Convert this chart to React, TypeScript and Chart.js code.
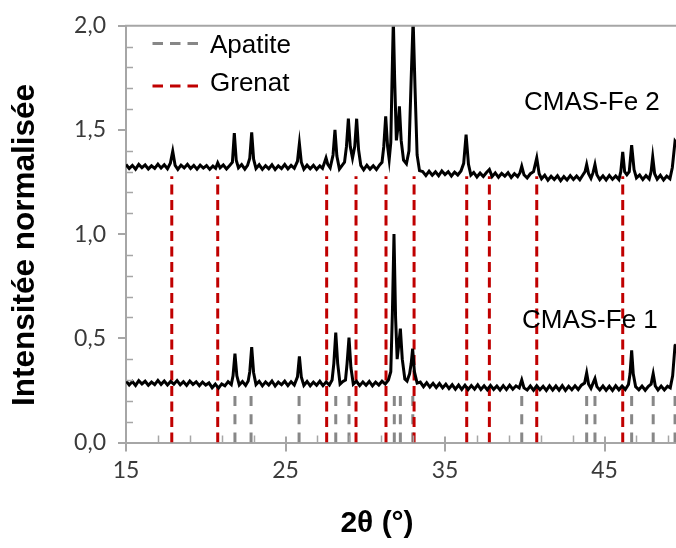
import React, { useEffect, useRef } from 'react';
import { Chart, registerables } from 'chart.js';

Chart.register(...registerables);

// ---- axis / labels ----
const xTicks = [15, 25, 35, 45];
const xMinorTicks = [17, 19, 21, 23, 27, 29, 31, 33, 37, 39, 41, 43, 47, 49];
const yTicks = [0, 0.5, 1, 1.5, 2];
const xRange = [15, 49.48];
const yRange = [0, 2];
const xTitle = '2θ (°)';
const yTitle = 'Intensitée normalisée';
const seriesLabels = ['CMAS-Fe 1', 'CMAS-Fe 2'];
const refLabels = ['Apatite', 'Grenat'];

// ---- reference peak positions (2θ) ----
const apatitePeaks = [21.83, 22.84, 25.85, 28.15, 28.98, 31.82, 32.2, 32.98, 39.81, 43.88, 44.4, 46.7, 48.05, 49.42];
const apatiteTop = 0.223;
const grenatPeaks = [17.87, 20.75, 27.58, 29.42, 31.3, 33.06, 36.36, 37.78, 40.75, 46.14];
const grenatTop = 1.278;

// ---- CMAS-Fe 2 (upper pattern) ----
const cmasFe2: [number, number][] = [
  [15.0, 1.334], [15.2, 1.315], [15.4, 1.33], [15.6, 1.312], [15.8, 1.335], [16.0, 1.319], [16.2, 1.332], [16.4, 1.313],
  [16.6, 1.328], [16.8, 1.316], [17.0, 1.336], [17.2, 1.317], [17.4, 1.333], [17.6, 1.314], [17.78, 1.34], [17.93, 1.398],
  [18.08, 1.33], [18.25, 1.311], [18.45, 1.331], [18.65, 1.318], [18.85, 1.335], [19.05, 1.315], [19.25, 1.33], [19.45, 1.312],
  [19.65, 1.331], [19.85, 1.317], [20.05, 1.329], [20.25, 1.311], [20.45, 1.327], [20.62, 1.316], [20.75, 1.342], [20.9, 1.318],
  [21.1, 1.332], [21.3, 1.313], [21.5, 1.33], [21.67, 1.345], [21.79, 1.485], [21.91, 1.355], [22.05, 1.318], [22.25, 1.334],
  [22.45, 1.312], [22.62, 1.33], [22.76, 1.365], [22.88, 1.489], [23.0, 1.36], [23.15, 1.315], [23.35, 1.333], [23.55, 1.311],
  [23.75, 1.329], [23.95, 1.314], [24.15, 1.333], [24.35, 1.31], [24.55, 1.328], [24.75, 1.315], [24.95, 1.334], [25.15, 1.313],
  [25.35, 1.33], [25.55, 1.316], [25.75, 1.35], [25.87, 1.435], [25.99, 1.345], [26.15, 1.312], [26.35, 1.331], [26.55, 1.314],
  [26.75, 1.33], [26.95, 1.311], [27.15, 1.328], [27.32, 1.316], [27.45, 1.345], [27.54, 1.366], [27.65, 1.335], [27.8, 1.318],
  [27.98, 1.38], [28.1, 1.5], [28.22, 1.375], [28.38, 1.312], [28.55, 1.33], [28.7, 1.345], [28.82, 1.42], [28.94, 1.554],
  [29.06, 1.42], [29.2, 1.365], [29.34, 1.42], [29.46, 1.554], [29.58, 1.405], [29.72, 1.33], [29.9, 1.309], [30.1, 1.331],
  [30.3, 1.312], [30.5, 1.328], [30.7, 1.31], [30.9, 1.332], [31.05, 1.345], [31.16, 1.42], [31.28, 1.565], [31.4, 1.42],
  [31.5, 1.358], [31.6, 1.44], [31.68, 1.75], [31.76, 2.03], [31.84, 1.75], [31.95, 1.45], [32.06, 1.52], [32.14, 1.613],
  [32.25, 1.45], [32.4, 1.355], [32.58, 1.338], [32.74, 1.4], [32.88, 1.75], [33.0, 2.03], [33.12, 1.7], [33.25, 1.38],
  [33.4, 1.305], [33.6, 1.3], [33.8, 1.281], [34.0, 1.302], [34.2, 1.283], [34.4, 1.299], [34.6, 1.28], [34.8, 1.303],
  [35.0, 1.286], [35.2, 1.3], [35.4, 1.279], [35.6, 1.298], [35.8, 1.284], [36.0, 1.303], [36.17, 1.34], [36.32, 1.478],
  [36.47, 1.335], [36.62, 1.283], [36.8, 1.296], [37.0, 1.274], [37.2, 1.293], [37.4, 1.277], [37.6, 1.296], [37.78, 1.31],
  [37.95, 1.276], [38.15, 1.294], [38.35, 1.273], [38.55, 1.292], [38.75, 1.278], [38.95, 1.295], [39.15, 1.272], [39.35, 1.29],
  [39.55, 1.276], [39.7, 1.295], [39.81, 1.326], [39.95, 1.285], [40.15, 1.27], [40.35, 1.29], [40.55, 1.3], [40.75, 1.366],
  [40.9, 1.29], [41.05, 1.266], [41.25, 1.283], [41.45, 1.259], [41.65, 1.278], [41.85, 1.262], [42.05, 1.28], [42.25, 1.257],
  [42.45, 1.276], [42.65, 1.26], [42.85, 1.281], [43.05, 1.262], [43.25, 1.279], [43.45, 1.261], [43.65, 1.285], [43.78, 1.3],
  [43.88, 1.334], [44.0, 1.29], [44.15, 1.268], [44.28, 1.295], [44.4, 1.334], [44.52, 1.285], [44.7, 1.262], [44.9, 1.28],
  [45.1, 1.26], [45.3, 1.282], [45.5, 1.263], [45.7, 1.279], [45.9, 1.262], [46.02, 1.3], [46.14, 1.395], [46.26, 1.3],
  [46.4, 1.285], [46.55, 1.3], [46.7, 1.427], [46.85, 1.31], [47.0, 1.27], [47.2, 1.284], [47.4, 1.262], [47.6, 1.281],
  [47.8, 1.265], [47.92, 1.3], [48.02, 1.37], [48.14, 1.29], [48.3, 1.264], [48.5, 1.283], [48.7, 1.26], [48.9, 1.279],
  [49.1, 1.266], [49.25, 1.32], [49.42, 1.446], [49.48, 1.44],
];

// ---- CMAS-Fe 1 (lower pattern) ----
const cmasFe1: [number, number][] = [
  [15.0, 0.296], [15.2, 0.276], [15.4, 0.293], [15.6, 0.274], [15.8, 0.297], [16.0, 0.281], [16.2, 0.294], [16.4, 0.275],
  [16.6, 0.29], [16.8, 0.278], [17.0, 0.298], [17.2, 0.279], [17.4, 0.295], [17.6, 0.276], [17.8, 0.293], [18.0, 0.28],
  [18.2, 0.297], [18.4, 0.277], [18.6, 0.292], [18.8, 0.274], [19.0, 0.295], [19.2, 0.279], [19.4, 0.291], [19.6, 0.273],
  [19.8, 0.29], [20.0, 0.276], [20.2, 0.286], [20.4, 0.263], [20.6, 0.28], [20.8, 0.261], [21.0, 0.281], [21.2, 0.272],
  [21.4, 0.292], [21.6, 0.278], [21.71, 0.32], [21.83, 0.426], [21.95, 0.32], [22.1, 0.276], [22.3, 0.293], [22.5, 0.274],
  [22.66, 0.295], [22.76, 0.34], [22.88, 0.458], [23.0, 0.335], [23.15, 0.278], [23.35, 0.294], [23.55, 0.272], [23.75, 0.291],
  [23.95, 0.276], [24.15, 0.295], [24.35, 0.271], [24.55, 0.29], [24.75, 0.277], [24.95, 0.294], [25.15, 0.273], [25.35, 0.292],
  [25.55, 0.276], [25.75, 0.315], [25.87, 0.413], [25.99, 0.315], [26.15, 0.274], [26.35, 0.293], [26.55, 0.272], [26.75, 0.29],
  [26.95, 0.275], [27.15, 0.294], [27.35, 0.273], [27.55, 0.291], [27.75, 0.276], [27.92, 0.3], [28.03, 0.38], [28.15, 0.527],
  [28.27, 0.38], [28.42, 0.28], [28.6, 0.293], [28.76, 0.3], [28.86, 0.38], [28.98, 0.503], [29.1, 0.36], [29.25, 0.28],
  [29.45, 0.294], [29.65, 0.273], [29.85, 0.291], [30.05, 0.275], [30.25, 0.293], [30.45, 0.272], [30.65, 0.29], [30.85, 0.276],
  [31.05, 0.294], [31.25, 0.28], [31.45, 0.3], [31.6, 0.34], [31.7, 0.62], [31.8, 1.0], [31.9, 0.6], [32.0, 0.4],
  [32.1, 0.47], [32.2, 0.547], [32.32, 0.4], [32.48, 0.305], [32.62, 0.295], [32.78, 0.33], [32.88, 0.38], [32.97, 0.45],
  [33.08, 0.34], [33.25, 0.285], [33.45, 0.29], [33.65, 0.268], [33.85, 0.287], [34.05, 0.266], [34.25, 0.284], [34.45, 0.264],
  [34.65, 0.283], [34.85, 0.262], [35.05, 0.28], [35.25, 0.259], [35.45, 0.277], [35.65, 0.256], [35.85, 0.276], [36.05, 0.255],
  [36.25, 0.275], [36.45, 0.254], [36.65, 0.273], [36.85, 0.256], [37.05, 0.277], [37.25, 0.254], [37.45, 0.272], [37.65, 0.253],
  [37.85, 0.274], [38.05, 0.255], [38.25, 0.271], [38.45, 0.252], [38.65, 0.273], [38.85, 0.254], [39.05, 0.275], [39.25, 0.256],
  [39.45, 0.272], [39.65, 0.262], [39.81, 0.3], [39.95, 0.262], [40.15, 0.252], [40.35, 0.271], [40.55, 0.251], [40.75, 0.272],
  [40.95, 0.253], [41.15, 0.27], [41.35, 0.25], [41.55, 0.272], [41.75, 0.252], [41.95, 0.271], [42.15, 0.251], [42.35, 0.273],
  [42.55, 0.25], [42.75, 0.27], [42.95, 0.253], [43.15, 0.272], [43.35, 0.254], [43.55, 0.275], [43.75, 0.285], [43.88, 0.334],
  [44.0, 0.28], [44.15, 0.26], [44.28, 0.285], [44.4, 0.307], [44.52, 0.268], [44.7, 0.252], [44.9, 0.271], [45.1, 0.251],
  [45.3, 0.27], [45.5, 0.25], [45.7, 0.272], [45.9, 0.253], [46.1, 0.271], [46.3, 0.254], [46.5, 0.278], [46.6, 0.33],
  [46.7, 0.442], [46.8, 0.33], [46.95, 0.268], [47.15, 0.253], [47.35, 0.271], [47.55, 0.251], [47.75, 0.27], [47.92, 0.28],
  [48.05, 0.33], [48.18, 0.272], [48.35, 0.252], [48.55, 0.271], [48.75, 0.252], [48.95, 0.27], [49.12, 0.262], [49.27, 0.32],
  [49.42, 0.466], [49.48, 0.47],
];

// ---- styles ----
const W = 676;
const H = 548;
const AXIS = '#a6a6a6';
const TICK_TEXT = '#3a3a3a';
const GREY = '#878787';
const RED = '#c00000';
const SANS = '"Liberation Sans", Arial, sans-serif';
const TICK_FONT = 'Lato';

export default function App() {
  const ref = useRef<HTMLCanvasElement | null>(null);

  useEffect(() => {
    const canvas = ref.current;
    if (!canvas) return;

    const vlines = (xs: number[], top: number) =>
      xs.flatMap((x) => [{ x, y: 0 }, { x, y: top }, { x, y: null as any }]);

    const overlay = {
      id: 'overlay',
      afterDraw(chart: any) {
        const { ctx, chartArea: ca, scales } = chart;
        const xs = scales.x;
        const ys = scales.y;
        ctx.save();
        // top frame line
        ctx.strokeStyle = AXIS;
        ctx.lineWidth = 2;
        ctx.beginPath();
        ctx.moveTo(ca.left - 1, ca.top);
        ctx.lineTo(ca.right, ca.top);
        ctx.stroke();
        // y minor ticks (inside)
        ctx.lineWidth = 1.5;
        for (let i = 1; i < 20; i++) {
          if (i % 5 === 0) continue;
          const py = Math.round(ys.getPixelForValue(i / 10)) + 0.5;
          ctx.beginPath();
          ctx.moveTo(ca.left, py);
          ctx.lineTo(ca.left + 7, py);
          ctx.stroke();
        }
        // x minor ticks (inside) + inner part of major ticks
        for (const v of xMinorTicks) {
          const px = Math.round(xs.getPixelForValue(v)) + 0.5;
          ctx.beginPath();
          ctx.moveTo(px, ca.bottom);
          ctx.lineTo(px, ca.bottom - 7);
          ctx.stroke();
        }
        ctx.lineWidth = 2;
        for (const v of xTicks) {
          const px = Math.round(xs.getPixelForValue(v));
          ctx.beginPath();
          ctx.moveTo(px, ca.bottom);
          ctx.lineTo(px, ca.bottom - 6);
          ctx.stroke();
        }

        // legend (inside plot, top-left)
        const ds = chart.data.datasets;
        const legendRows = [
          { label: refLabels[0], color: ds[2].borderColor, yLine: 43.5, yText: 53 },
          { label: refLabels[1], color: ds[3].borderColor, yLine: 86, yText: 90.5 },
        ];
        for (const row of legendRows) {
          ctx.strokeStyle = row.color;
          ctx.lineWidth = 3;
          ctx.setLineDash([10.5, 7]);
          ctx.beginPath();
          ctx.moveTo(152.5, row.yLine);
          ctx.lineTo(198.5, row.yLine);
          ctx.stroke();
          ctx.setLineDash([]);
          ctx.fillStyle = '#000';
          ctx.font = `26px ${SANS}`;
          ctx.textAlign = 'left';
          ctx.textBaseline = 'alphabetic';
          ctx.fillText(row.label, 210, row.yText);
        }

        // series labels
        ctx.font = `26px ${SANS}`;
        ctx.fillStyle = '#000';
        ctx.fillText(ds[1].label, 524, 110);
        ctx.fillText(ds[0].label, 522, 328);

        // axis titles
        ctx.font = `bold 30px ${SANS}`;
        ctx.textAlign = 'center';
        ctx.textBaseline = 'middle';
        ctx.fillText(xTitle, 377, 524);
        ctx.font = `bold 31.5px ${SANS}`;
        ctx.translate(25, 245);
        ctx.rotate(-Math.PI / 2);
        ctx.fillText(yTitle, 0, 0);
        ctx.restore();
      },
    };

    const chart = new Chart(canvas, {
      type: 'line',
      data: {
        datasets: [
          {
            label: seriesLabels[0],
            data: cmasFe1.map(([x, y]) => ({ x, y })),
            borderColor: '#000',
            borderWidth: 3,
            pointRadius: 0,
            order: 0,
          },
          {
            label: seriesLabels[1],
            data: cmasFe2.map(([x, y]) => ({ x, y })),
            borderColor: '#000',
            borderWidth: 3,
            pointRadius: 0,
            order: 0,
          },
          {
            label: refLabels[0],
            data: vlines(apatitePeaks, apatiteTop),
            borderColor: GREY,
            borderWidth: 3,
            borderDash: [10, 8.3],
            pointRadius: 0,
            spanGaps: false,
            order: 2,
          },
          {
            label: refLabels[1],
            data: vlines(grenatPeaks, grenatTop),
            borderColor: RED,
            borderWidth: 3,
            borderDash: [10, 5.5],
            pointRadius: 0,
            spanGaps: false,
            order: 1,
          },
        ],
      },
      options: {
        animation: false,
        responsive: false,
        devicePixelRatio: 1,
        events: [],
        layout: { padding: { left: 0, right: 0, top: 24, bottom: 0 } },
        plugins: { legend: { display: false }, tooltip: { enabled: false } },
        scales: {
          x: {
            type: 'linear',
            min: xRange[0],
            max: xRange[1],
            afterBuildTicks: (s: any) => {
              s.ticks = xTicks.map((value) => ({ value }));
            },
            afterFit: (s: any) => {
              s.height = H - 442.5;
            },
            border: { display: true, color: AXIS, width: 2 },
            grid: { display: true, drawOnChartArea: false, drawTicks: true, tickLength: 9, color: AXIS, lineWidth: 2 },
            ticks: {
              color: TICK_TEXT,
              font: { family: TICK_FONT, size: 23 },
              padding: 5,
              maxRotation: 0,
              callback: (v: any) => String(v),
            },
          },
          y: {
            type: 'linear',
            min: yRange[0],
            max: yRange[1],
            afterBuildTicks: (s: any) => {
              s.ticks = yTicks.map((value) => ({ value }));
            },
            afterFit: (s: any) => {
              s.width = 126;
            },
            border: { display: true, color: AXIS, width: 2 },
            grid: { display: true, drawOnChartArea: false, drawTicks: true, tickLength: 8, color: AXIS, lineWidth: 2 },
            ticks: {
              color: TICK_TEXT,
              font: { family: TICK_FONT, size: 23 },
              padding: 12,
              callback: (v: any) => Number(v).toFixed(1).replace('.', ','),
            },
          },
        },
      },
      plugins: [overlay],
    } as any);

    return () => chart.destroy();
  }, []);

  return (
    <div style={{ position: 'absolute', left: 0, top: 0, width: W, height: H, background: '#fff' }}>
      <canvas ref={ref} width={W} height={H} style={{ display: 'block', width: W, height: H }} />
    </div>
  );
}
